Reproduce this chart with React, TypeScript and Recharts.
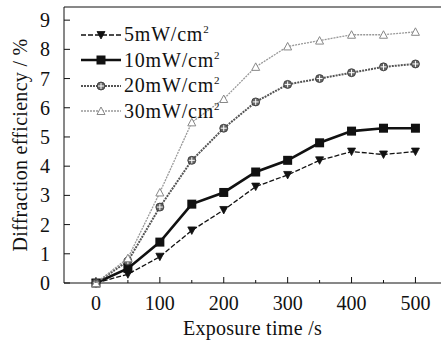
import React from "react";
import {
  LineChart,
  Line,
  XAxis,
  YAxis,
  Legend,
  ReferenceLine,
} from "recharts";

const times = [0, 50, 100, 150, 200, 250, 300, 350, 400, 450, 500];
const p5 = [0, 0.3, 0.9, 1.8, 2.5, 3.3, 3.7, 4.2, 4.5, 4.4, 4.5];
const p10 = [0, 0.5, 1.4, 2.7, 3.1, 3.8, 4.2, 4.8, 5.2, 5.3, 5.3];
const p20 = [0, 0.75, 2.6, 4.2, 5.3, 6.2, 6.8, 7.0, 7.2, 7.4, 7.5];
const p30 = [0, 0.85, 3.1, 5.5, 6.3, 7.4, 8.1, 8.3, 8.5, 8.5, 8.6];

const xTicks = [0, 50, 100, 150, 200, 250, 300, 350, 400, 450, 500];
const yTicks = [0, 0.5, 1, 1.5, 2, 2.5, 3, 3.5, 4, 4.5, 5, 5.5, 6, 6.5, 7, 7.5, 8, 8.5, 9];

const data = times.map((t, i) => ({
  t,
  p5: p5[i],
  p10: p10[i],
  p20: p20[i],
  p30: p30[i],
}));

const FONT = "'Liberation Serif', 'Times New Roman', serif";

type MarkProps = { cx?: number; cy?: number; kind: string };

function Mark({ cx = 0, cy = 0, kind }: MarkProps) {
  if (kind === "down")
    return (
      <polygon
        points={`${cx - 4},${cy - 3.5} ${cx + 4},${cy - 3.5} ${cx},${cy + 4}`}
        fill="#111"
        stroke="#111"
        strokeWidth={0.8}
      />
    );
  if (kind === "square")
    return <rect x={cx - 4.5} y={cy - 4.5} width={9} height={9} fill="#111" />;
  if (kind === "star")
    return (
      <g>
        <circle cx={cx} cy={cy} r={4} fill="#666" stroke="#333" strokeWidth={0.8} />
        <path
          d={`M${cx - 3},${cy} H${cx + 3} M${cx},${cy - 3} V${cy + 3}`}
          stroke="#fff"
          strokeWidth={1}
        />
      </g>
    );
  return (
    <polygon
      points={`${cx - 4},${cy + 3.5} ${cx + 4},${cy + 3.5} ${cx},${cy - 4}`}
      fill="#fff"
      stroke="#888"
      strokeWidth={1}
    />
  );
}

const series = [
  { key: "p5", name: "5mW/cm", stroke: "#111", width: 1.3, dash: "5 2", mark: "down" },
  { key: "p10", name: "10mW/cm", stroke: "#111", width: 2.6, dash: undefined, mark: "square" },
  { key: "p20", name: "20mW/cm", stroke: "#555", width: 2, dash: "2 1", mark: "star" },
  { key: "p30", name: "30mW/cm", stroke: "#999", width: 1.3, dash: "2 1", mark: "up" },
];

function LegendBox() {
  return (
    <div style={{ fontFamily: FONT, fontSize: 20, color: "#111" }}>
      {series.map((s) => (
        <div
          key={s.key}
          style={{ display: "flex", alignItems: "center", height: 25.5, whiteSpace: "nowrap" }}
        >
          <svg width={42} height={14} style={{ marginRight: 2 }}>
            <line
              x1={1}
              y1={7}
              x2={41}
              y2={7}
              stroke={s.stroke}
              strokeWidth={s.width}
              strokeDasharray={s.dash}
            />
            <Mark cx={21} cy={7} kind={s.mark} />
          </svg>
          <span style={{ letterSpacing: 0.8 }}>
            {s.name}
            <sup style={{ fontSize: 11 }}>2</sup>
          </span>
        </div>
      ))}
    </div>
  );
}

function YTick(props: any) {
  const { x, y, payload } = props;
  const v = payload.value as number;
  const major = Number.isInteger(v);
  const ax = x + 14;
  return (
    <g>
      <line x1={ax} y1={y} x2={ax + (major ? 6 : 3)} y2={y} stroke="#111" strokeWidth={1} />
      {major && (
        <text x={x} y={y} dy={7} textAnchor="end" fontSize={20} fontFamily={FONT} fill="#111">
          {v}
        </text>
      )}
    </g>
  );
}

function XTick(props: any) {
  const { x, y, payload } = props;
  const v = payload.value as number;
  const major = v % 100 === 0;
  const ay = y - 10;
  return (
    <g>
      <line x1={x} y1={ay} x2={x} y2={ay - (major ? 6 : 3)} stroke="#111" strokeWidth={1} />
      {major && (
        <text x={x} y={y} dy={17} textAnchor="middle" fontSize={20} fontFamily={FONT} fill="#111">
          {v}
        </text>
      )}
    </g>
  );
}

export default function App() {
  return (
    <div style={{ position: "absolute", left: 0, top: 0, background: "#fff", fontFamily: FONT }}>
      <LineChart
        width={444}
        height={341}
        data={data}
        margin={{ top: 7, right: 3, left: 0, bottom: 0 }}
        style={{ fontFamily: FONT }}
      >
        <XAxis
          dataKey="t"
          type="number"
          domain={[-50, 540]}
          ticks={xTicks}
          tickSize={0}
          tickMargin={10}
          tick={<XTick />}
          height={58}
          stroke="#111"
          label={{
            value: "Exposure time /s",
            position: "insideBottom",
            offset: 6,
            fontSize: 20,
            fontFamily: FONT,
            fill: "#111",
            style: { fontFamily: FONT, letterSpacing: 0.3 },
          }}
        />
        <YAxis
          type="number"
          domain={[0, 9.45]}
          ticks={yTicks}
          tickSize={0}
          tickMargin={14}
          tick={<YTick />}
          width={64}
          stroke="#111"
          label={{
            value: "Diffraction efficiency / %",
            angle: -90,
            position: "insideLeft",
            offset: 20,
            fontSize: 20,
            fontFamily: FONT,
            fill: "#111",
            style: { fontFamily: FONT, textAnchor: "middle", letterSpacing: 0.3 },
          }}
        />
        <ReferenceLine y={9.45} stroke="#111" strokeWidth={1} />
        <Legend
          content={<LegendBox />}
          layout="horizontal"
          verticalAlign="middle"
          align="center"
          wrapperStyle={{ top: 22, left: 80, width: "auto" }}
        />
        {series.map((s) => (
          <Line
            key={s.key}
            dataKey={s.key}
            name={s.name}
            stroke={s.stroke}
            strokeWidth={s.width}
            strokeDasharray={s.dash}
            dot={(p: any) => <Mark key={`${s.key}-${p.index}`} cx={p.cx} cy={p.cy} kind={s.mark} />}
            isAnimationActive={false}
          />
        ))}
      </LineChart>
    </div>
  );
}
